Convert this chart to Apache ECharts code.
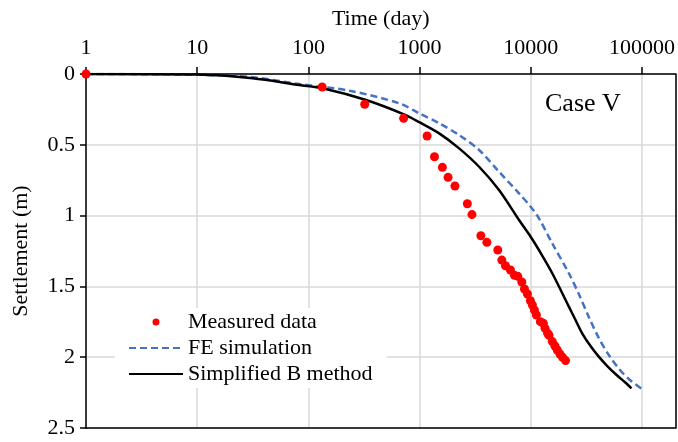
<!DOCTYPE html>
<html>
<head>
<meta charset="utf-8">
<script src="https://cdn.jsdelivr.net/npm/echarts@6/dist/echarts.min.js"></script>
<style>
html,body{margin:0;padding:0;background:#fff;}
#chart{width:678px;height:442px;}
</style>
</head>
<body>
<div id="chart"></div>
<script>
// Measured data (time in days, settlement in m)
var measuredTime = [1, 133, 321, 718, 1168, 1361, 1603, 1802, 2080, 2686, 2958, 3556, 4028, 5049, 5488, 5918, 6561, 7125, 7640, 8300, 8770, 9330, 9916, 10330, 10770, 11230, 12190, 12970, 13430, 14170, 14580, 15620, 16490, 17300, 18280, 19300, 20540];
var measuredSettlement = [0, 0.092, 0.214, 0.313, 0.438, 0.584, 0.659, 0.730, 0.791, 0.916, 0.993, 1.142, 1.189, 1.243, 1.314, 1.354, 1.384, 1.422, 1.429, 1.469, 1.518, 1.554, 1.601, 1.631, 1.667, 1.702, 1.749, 1.761, 1.796, 1.831, 1.845, 1.890, 1.921, 1.949, 1.977, 2.001, 2.024];

// FE simulation
var feTime = [1, 10, 31.5, 83, 234, 656, 993, 1500, 2267, 3428, 5178, 7834, 9970, 11830, 15590, 21990, 27040, 33230, 40850, 50210, 61800, 76000, 103000];
var feSettlement = [0, 0.005, 0.023, 0.071, 0.118, 0.207, 0.278, 0.348, 0.431, 0.537, 0.690, 0.843, 0.937, 1.019, 1.196, 1.407, 1.554, 1.716, 1.864, 1.984, 2.080, 2.154, 2.232];

// Simplified B method
var sbTime = [1, 10, 31.5, 83, 134, 330, 723, 993, 1500, 2267, 3428, 5178, 7834, 9970, 11830, 15590, 21990, 25240, 28960, 34440, 40850, 49230, 60500, 69980, 80400];
var sbSettlement = [0, 0.004, 0.030, 0.078, 0.101, 0.184, 0.285, 0.340, 0.419, 0.525, 0.655, 0.819, 1.031, 1.149, 1.243, 1.407, 1.643, 1.737, 1.831, 1.921, 1.996, 2.066, 2.133, 2.175, 2.220];

var xTickLabels = ['1', '10', '100', '1000', '10000', '100000'];
var seriesNames = ['Measured data', 'FE simulation', 'Simplified B method'];

function zip(a, b) { return a.map(function (v, i) { return [v, b[i]]; }); }

var FONT = '"Liberation Serif", "Times New Roman", serif';
var chart = echarts.init(document.getElementById('chart'), null, {renderer: 'canvas'});
chart.setOption({
  animation: false,
  backgroundColor: '#ffffff',
  textStyle: {fontFamily: FONT, color: '#000'},
  grid: {left: 86, right: 1, top: 74, bottom: 14},
  xAxis: [{
    type: 'log', logBase: 10, position: 'top', min: 1, max: 200000,
    name: 'Time (day)', nameLocation: 'middle', nameGap: 44,
    nameTextStyle: {fontFamily: FONT, fontSize: 22, color: '#000'},
    axisLine: {show: true, lineStyle: {color: '#000', width: 1.5}},
    axisTick: {show: true, length: 7, lineStyle: {color: '#000', width: 1.5}},
    axisLabel: {fontFamily: FONT, fontSize: 22, color: '#000', margin: 15, showMaxLabel: false,
      formatter: function (v) { var i = Math.round(Math.log10(v)); return xTickLabels[i] !== undefined && Math.abs(Math.log10(v) - i) < 1e-6 ? xTickLabels[i] : ''; }},
    splitLine: {show: true, lineStyle: {color: '#d9d9d9', width: 1.5}},
    minorTick: {show: false}
  }, {
    type: 'log', logBase: 10, position: 'bottom', min: 1, max: 200000,
    axisLine: {show: true, onZero: false, lineStyle: {color: '#000', width: 1.5}},
    axisTick: {show: false}, axisLabel: {show: false}, splitLine: {show: false}
  }],
  yAxis: [{
    type: 'value', inverse: true, min: 0, max: 2.5, interval: 0.5,
    name: 'Settlement (m)', nameLocation: 'middle', nameGap: 54, nameRotate: 90,
    nameTextStyle: {fontFamily: FONT, fontSize: 22, color: '#000'},
    axisLine: {show: true, lineStyle: {color: '#000', width: 1.5}},
    axisTick: {show: true, length: 6, lineStyle: {color: '#000', width: 1.5}},
    axisLabel: {fontFamily: FONT, fontSize: 22, color: '#000', margin: 11},
    splitLine: {show: true, lineStyle: {color: '#d9d9d9', width: 1.5}}
  }, {
    type: 'value', inverse: true, min: 0, max: 2.5, interval: 0.5, position: 'right',
    axisLine: {show: true, lineStyle: {color: '#000', width: 1.5}},
    axisTick: {show: false}, axisLabel: {show: false}, splitLine: {show: false}
  }],
  legend: {
    orient: 'vertical', left: 115, top: 308,
    padding: [3, 14, 3, 13], backgroundColor: '#ffffff',
    itemWidth: 54, itemHeight: 7, itemGap: 4,
    textStyle: {fontFamily: FONT, fontSize: 22, color: '#000'},
    data: [
      {name: seriesNames[0]},
      {name: seriesNames[1], itemStyle: {opacity: 0}},
      {name: seriesNames[2], itemStyle: {opacity: 0}}
    ]
  },
  graphic: [{
    type: 'text', x: 545, y: 104, z: 100,
    style: {text: 'Case V', font: '26px ' + FONT, fill: '#000', align: 'left', verticalAlign: 'middle'}
  }],
  series: [{
    name: seriesNames[1], type: 'line', xAxisIndex: 0, yAxisIndex: 0,
    data: zip(feTime, feSettlement), smooth: 0.3, symbol: 'none', showSymbol: false,
    lineStyle: {color: '#4472C4', width: 2.5, type: [7, 4]}, itemStyle: {color: '#4472C4'}, z: 3
  }, {
    name: seriesNames[2], type: 'line', xAxisIndex: 0, yAxisIndex: 0,
    data: zip(sbTime, sbSettlement), smooth: 0.3, symbol: 'none', showSymbol: false,
    lineStyle: {color: '#000', width: 2.5, type: 'solid'}, itemStyle: {color: '#000'}, z: 4
  }, {
    name: seriesNames[0], type: 'scatter', xAxisIndex: 0, yAxisIndex: 0,
    data: zip(measuredTime, measuredSettlement), symbol: 'circle', symbolSize: 9, clip: false,
    itemStyle: {color: '#FF0000', opacity: 1}, z: 5
  }]
});
</script>
</body>
</html>
